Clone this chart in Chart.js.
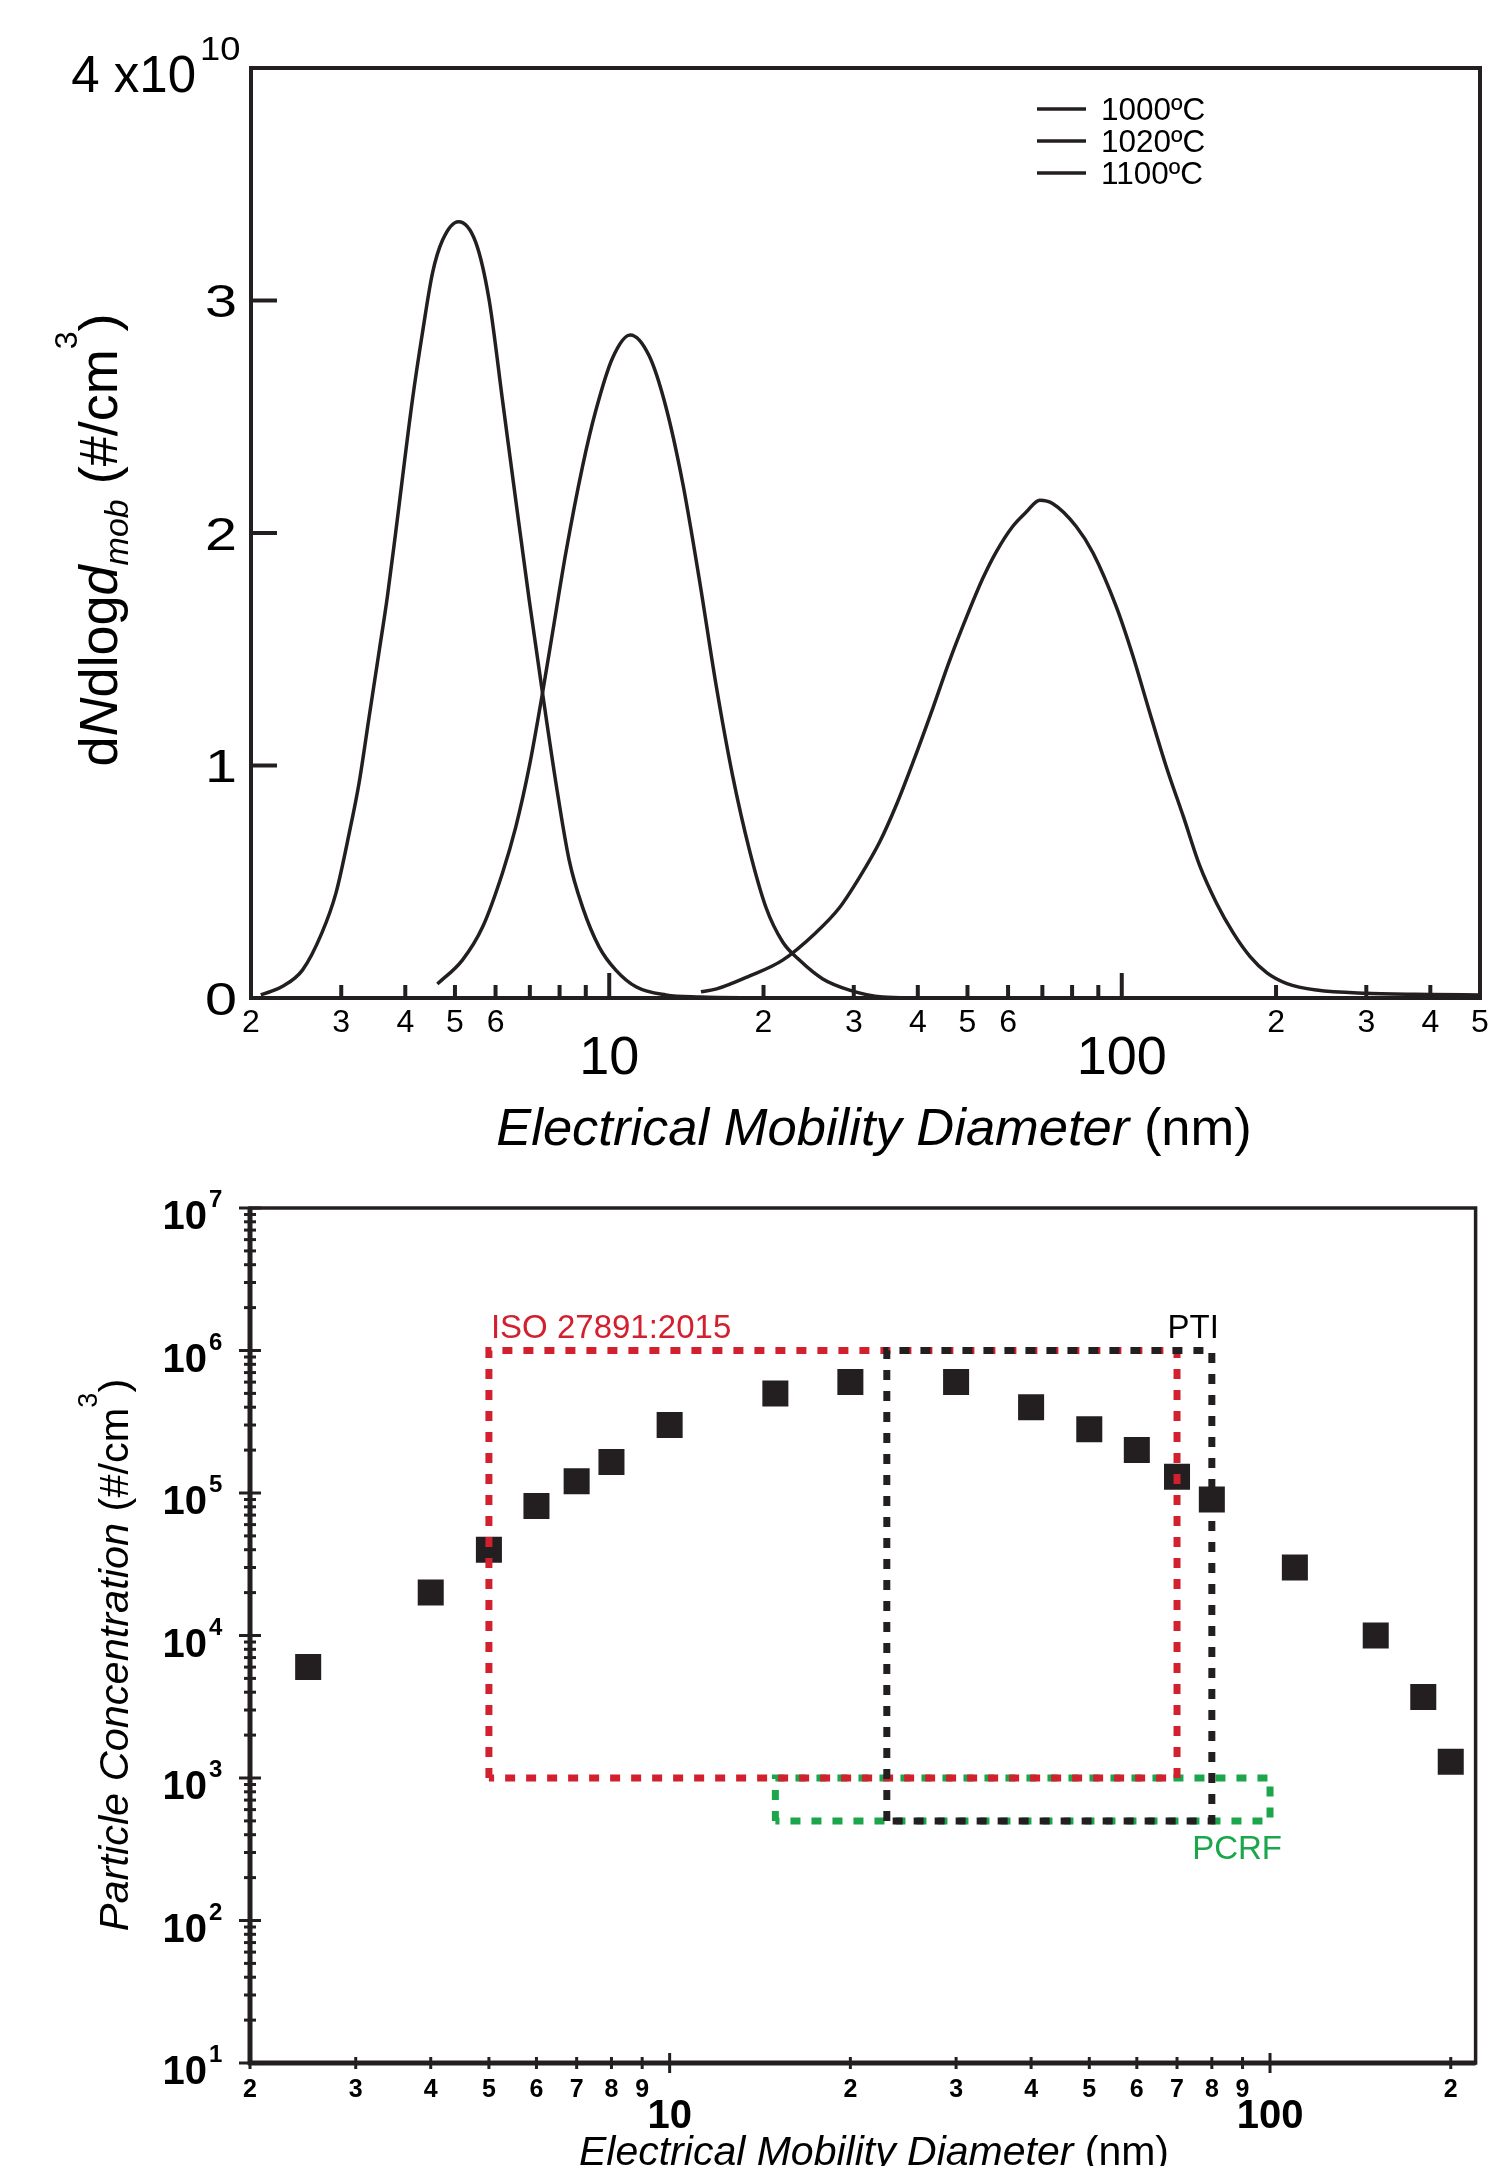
<!DOCTYPE html>
<html>
<head>
<meta charset="UTF-8">
<title>Particle size distributions</title>
<script src="https://cdn.jsdelivr.net/npm/chart.js"></script>
<style>
  body { margin: 0; background: #fff; }
  canvas { position: absolute; left: 0; }
</style>
</head>
<body>
<canvas id="top" width="1494" height="1170" style="top:0"></canvas>
<canvas id="bottom" width="1494" height="996" style="top:1170px"></canvas>

<script>
// ---- top panel: dN/dlogd (units of 1e10 #/cm3) vs mobility diameter (nm) ----
const d1000 = [2.09, 2.30, 2.52, 2.75, 2.93, 3.11, 3.25, 3.40, 3.56, 3.69, 3.83, 4.13, 4.32, 4.52, 4.73, 5.08, 5.49, 5.83, 6.19, 6.57, 6.98, 7.41, 7.87, 8.35, 8.87, 9.56, 10.3, 11.3, 12.9, 15.0, 20.0];
const n1000 = [0.013, 0.049, 0.120, 0.280, 0.452, 0.710, 0.925, 1.209, 1.497, 1.725, 2.000, 2.572, 2.860, 3.118, 3.260, 3.339, 3.250, 3.002, 2.572, 2.142, 1.712, 1.312, 0.925, 0.594, 0.391, 0.219, 0.120, 0.047, 0.013, 0.004, 0.0];
const d1020 = [4.62, 5.17, 5.66, 6.19, 6.57, 6.98, 7.41, 7.75, 8.23, 8.87, 9.42, 10.15, 10.99, 11.97, 12.90, 13.91, 14.99, 16.16, 17.41, 18.77, 20.24, 21.80, 23.50, 26.10, 29.43, 34.14, 40.0];
const n1020 = [0.060, 0.163, 0.305, 0.538, 0.735, 0.994, 1.312, 1.570, 1.916, 2.287, 2.529, 2.753, 2.852, 2.761, 2.542, 2.215, 1.800, 1.346, 0.955, 0.637, 0.387, 0.241, 0.163, 0.082, 0.034, 0.004, 0.0];
const d1100 = [15.1, 16.2, 18.8, 21.8, 25.3, 28.1, 30.8, 33.7, 36.3, 39.1, 42.8, 46.1, 49.8, 53.6, 56.9, 61.3, 65.1, 69.2, 73.4, 81.5, 87.9, 97.6, 105, 113, 122, 132, 142, 153, 165, 178, 192, 210, 240, 301, 405, 496];
const n1100 = [0.027, 0.039, 0.095, 0.163, 0.281, 0.387, 0.520, 0.671, 0.829, 1.011, 1.247, 1.449, 1.639, 1.806, 1.919, 2.029, 2.090, 2.141, 2.126, 2.028, 1.914, 1.682, 1.475, 1.239, 0.998, 0.778, 0.568, 0.409, 0.280, 0.178, 0.108, 0.062, 0.034, 0.020, 0.015, 0.013];
const topSeries = ['1000ºC', '1020ºC', '1100ºC'];

const topXTicks = [2, 3, 4, 5, 6, 7, 8, 9, 10, 20, 30, 40, 50, 60, 70, 80, 90, 100, 200, 300, 400, 500];
const topXLabels = ['2', '3', '4', '5', '6', '', '', '', ['', '10'], '2', '3', '4', '5', '6', '', '', '', ['', '100'], '2', '3', '4', '5'];
const topYTicks = [0, 1, 2, 3, 4];

// ---- bottom panel: particle concentration (#/cm3) vs mobility diameter (nm) ----
const dScatter = [2.5, 4, 5, 6, 7, 8, 10, 15, 20, 30, 40, 50, 60, 70, 80, 110, 150, 180, 200];
const concScatter = [6.0e3, 2.0e4, 4.0e4, 8.1e4, 1.21e5, 1.65e5, 3.0e5, 5.0e5, 6.0e5, 6.0e5, 4.0e5, 2.8e5, 2.0e5, 1.3e5, 9.0e4, 3.0e4, 1.0e4, 3.7e3, 1.3e3];
// measurement ranges: [dmin, dmax], [cmin, cmax]
const isoRange = [5, 70], isoConc = [1e3, 1e6];
const ptiRange = [23, 80], ptiConc = [500, 1e6];
const pcrfRange = [15, 100], pcrfConc = [500, 1e3];

const botXTicks = [2, 3, 4, 5, 6, 7, 8, 9, 10, 20, 30, 40, 50, 60, 70, 80, 90, 100, 200];
const botXLabels = ['2', '3', '4', '5', '6', '7', '8', '9', ['', '10'], '2', '3', '4', '5', '6', '7', '8', '9', ['', '100'], '2'];
const botYDecades = [1, 2, 3, 4, 5, 6, 7];

const INK = '#231f20', RED = '#d2202f', GREEN = '#1ba64b';
const FONT = "'Liberation Sans', Arial, sans-serif";

function pairs(xs, ys) {
    return xs.map((x, i) => ({x: x, y: ys[i]}));
}
function box(xr, yr) {
    return [{x: xr[0], y: yr[0]}, {x: xr[0], y: yr[1]}, {x: xr[1], y: yr[1]}, {x: xr[1], y: yr[0]}, {x: xr[0], y: yr[0]}];
}

// text made of pieces with their own font and vertical shift
function richText(ctx, parts, x, y, align, stretch) {
    let w = 0;
    parts.forEach(p => { ctx.font = p[1]; w += ctx.measureText(p[0]).width; });
    ctx.save();
    ctx.translate(x, y);
    ctx.scale(stretch || 1, 1);
    let cx = align === 'center' ? -w / 2 : (align === 'right' ? -w : 0);
    ctx.textAlign = 'left';
    ctx.textBaseline = 'alphabetic';
    parts.forEach(p => {
        ctx.font = p[1];
        ctx.fillText(p[0], cx, p[2] || 0);
        cx += ctx.measureText(p[0]).width;
    });
    ctx.restore();
}
function line(ctx, x1, y1, x2, y2) {
    ctx.beginPath(); ctx.moveTo(x1, y1); ctx.lineTo(x2, y2); ctx.stroke();
}

const topDecor = {
    id: 'topDecor',
    afterDraw(chart) {
        const ctx = chart.ctx, a = chart.chartArea;
        const xs = chart.scales.x, ys = chart.scales.y;
        ctx.save();
        ctx.strokeStyle = INK;
        ctx.fillStyle = '#000';
        ctx.lineWidth = 4;
        ctx.strokeRect(a.left, a.top, a.right - a.left, a.bottom - a.top);
        // inward tick marks
        topXTicks.forEach(v => {
            const px = xs.getPixelForValue(v);
            line(ctx, px, a.bottom, px, a.bottom - (v === 10 || v === 100 ? 25 : 13));
        });
        topYTicks.forEach(v => {
            const py = ys.getPixelForValue(v);
            line(ctx, a.left, py, a.left + 26, py);
            if (v < 4) {
                richText(ctx, [[String(v), '46px ' + FONT]], a.left - 14, py + 16.5, 'right', 1.25);
            }
        });
        // top y label with exponent
        const p4 = ys.getPixelForValue(4);
        richText(ctx, [['4 x10', '51px ' + FONT]], a.left - 55, p4 + 24, 'right');
        richText(ctx, [['10', '33px ' + FONT]], a.left - 51, p4 - 8, 'left', 1.1);
        // axis titles
        richText(ctx, [['Electrical Mobility Diameter', 'italic 52.5px ' + FONT], [' (nm)', '52.5px ' + FONT]], 874, 1145, 'center');
        ctx.save();
        ctx.translate(117, 540);
        ctx.rotate(-Math.PI / 2);
        richText(ctx, [['d', '54px ' + FONT], ['N', 'italic 54px ' + FONT], ['dlog', '54px ' + FONT], ['d', 'italic 54px ' + FONT],
            ['mob', 'italic 34px ' + FONT, 11], [' (#/cm', '54px ' + FONT], ['3', '32px ' + FONT, -40], [')', '54px ' + FONT]], 0, 0, 'center');
        ctx.restore();
        // legend
        chart.data.datasets.forEach((ds, i) => {
            const y = 109 + i * 32;
            ctx.lineWidth = 3.5;
            ctx.strokeStyle = ds.borderColor;
            line(ctx, 1037, y, 1086, y);
            richText(ctx, [[ds.label, '31.5px ' + FONT]], 1101, y + 11, 'left');
        });
        ctx.restore();
    }
};

const botDecor = {
    id: 'botDecor',
    afterDraw(chart) {
        const ctx = chart.ctx, a = chart.chartArea;
        const xs = chart.scales.x, ys = chart.scales.y;
        ctx.save();
        ctx.strokeStyle = INK;
        ctx.fillStyle = '#000';
        ctx.lineWidth = 3.5;
        ctx.strokeRect(a.left, a.top, a.right - a.left, a.bottom - a.top);
        ctx.lineWidth = 5;
        line(ctx, a.left, a.top, a.left, a.bottom + 2);
        line(ctx, a.left - 2, a.bottom, a.right, a.bottom);
        // tick marks crossing the axes
        ctx.lineWidth = 3;
        botXTicks.forEach(v => {
            const px = xs.getPixelForValue(v);
            const h = (v === 10 || v === 100) ? 10 : 6;
            line(ctx, px, a.bottom - h, px, a.bottom + h);
        });
        botYDecades.forEach(d => {
            const py = ys.getPixelForValue(Math.pow(10, d));
            line(ctx, a.left - 11, py, a.left + 11, py);
            if (d < 7) {
                for (let m = 2; m <= 9; m++) {
                    const pm = ys.getPixelForValue(m * Math.pow(10, d));
                    line(ctx, a.left - 6, pm, a.left + 6, pm);
                }
            }
            richText(ctx, [['10', 'bold 40px ' + FONT]], 207, py + 21, 'right');
            richText(ctx, [[String(d), 'bold 24px ' + FONT]], 209, py - 1, 'left');
        });
        // range labels
        ctx.fillStyle = RED;
        richText(ctx, [['ISO 27891:2015', '33px ' + FONT]], xs.getPixelForValue(isoRange[0]) + 2, ys.getPixelForValue(isoConc[1]) - 13, 'left');
        ctx.fillStyle = '#000';
        richText(ctx, [['PTI', '33px ' + FONT]], xs.getPixelForValue(ptiRange[1]) + 7, ys.getPixelForValue(ptiConc[1]) - 13, 'right');
        ctx.fillStyle = GREEN;
        richText(ctx, [['PCRF', '33px ' + FONT]], xs.getPixelForValue(pcrfRange[1]) + 12, ys.getPixelForValue(pcrfConc[0]) + 38, 'right');
        // axis titles
        ctx.fillStyle = '#000';
        richText(ctx, [['Electrical Mobility Diameter', 'italic 41px ' + FONT], [' (nm)', '41px ' + FONT]], 874, 995, 'center');
        ctx.save();
        ctx.translate(128, 485);
        ctx.rotate(-Math.PI / 2);
        richText(ctx, [['Particle Concentration', 'italic 41.5px ' + FONT], [' (#/cm', '41.5px ' + FONT], ['3', '27px ' + FONT, -31], [')', '41.5px ' + FONT]], 0, 0, 'center');
        ctx.restore();
        ctx.restore();
    }
};

const curveStyle = {borderColor: INK, borderWidth: 3.5, pointRadius: 0, showLine: true, cubicInterpolationMode: 'monotone', fill: false};

new Chart(document.getElementById('top'), {
    type: 'scatter',
    data: {
        datasets: [
            Object.assign({label: topSeries[0], data: pairs(d1000, n1000)}, curveStyle),
            Object.assign({label: topSeries[1], data: pairs(d1020, n1020)}, curveStyle),
            Object.assign({label: topSeries[2], data: pairs(d1100, n1100)}, curveStyle)
        ]
    },
    options: {
        responsive: false,
        animation: false,
        layout: {padding: {top: 68, right: 14, left: 0, bottom: 0}},
        plugins: {legend: {display: false}, tooltip: {enabled: false}},
        scales: {
            x: {
                type: 'logarithmic', min: 2, max: 500,
                afterBuildTicks: s => { s.ticks = topXTicks.map(v => ({value: v, major: v === 10 || v === 100})); },
                afterFit: s => { s.height = 172; },
                grid: {display: false}, border: {display: false},
                ticks: {
                    autoSkip: false, maxRotation: 0, padding: -2.5, color: '#000',
                    font: c => (c.tick && c.tick.major) ? {family: FONT, size: 54, lineHeight: 0.69} : {family: FONT, size: 32},
                    callback: (v, i) => topXLabels[i]
                }
            },
            y: {
                min: 0, max: 4,
                afterBuildTicks: s => { s.ticks = topYTicks.map(v => ({value: v})); },
                afterFit: s => { s.width = 251; },
                grid: {display: false}, border: {display: false},
                ticks: {display: false}
            }
        }
    },
    plugins: [topDecor]
});

const rangeStyle = {showLine: true, pointRadius: 0, borderWidth: 7, borderDash: [10, 11], borderCapStyle: 'butt', fill: false, tension: 0};

new Chart(document.getElementById('bottom'), {
    type: 'scatter',
    data: {
        datasets: [
            {label: 'Concentration', data: pairs(dScatter, concScatter), pointStyle: 'rect', pointRadius: 18.4,
                backgroundColor: INK, borderWidth: 0, order: 5},
            Object.assign({label: 'PCRF', data: box(pcrfRange, pcrfConc), borderColor: GREEN, order: 3}, rangeStyle),
            Object.assign({label: 'ISO 27891:2015', data: box(isoRange, isoConc), borderColor: RED, order: 2}, rangeStyle),
            Object.assign({label: 'PTI', data: box(ptiRange, ptiConc), borderColor: INK, order: 1}, rangeStyle)
        ]
    },
    options: {
        responsive: false,
        animation: false,
        layout: {padding: {top: 38, right: 13, left: 0, bottom: 0}},
        plugins: {legend: {display: false}, tooltip: {enabled: false}},
        scales: {
            x: {
                type: 'logarithmic', min: 2, max: 220,
                afterBuildTicks: s => { s.ticks = botXTicks.map(v => ({value: v, major: v === 10 || v === 100})); },
                afterFit: s => { s.height = 103; },
                grid: {display: false}, border: {display: false},
                ticks: {
                    autoSkip: false, maxRotation: 0, padding: 4, color: '#000',
                    font: c => (c.tick && c.tick.major) ? {family: FONT, size: 40, weight: 'bold', lineHeight: 0.7} : {family: FONT, size: 25, weight: 'bold'},
                    callback: (v, i) => botXLabels[i]
                }
            },
            y: {
                type: 'logarithmic', min: 10, max: 1e7,
                afterFit: s => { s.width = 250; },
                grid: {display: false}, border: {display: false},
                ticks: {display: false}
            }
        }
    },
    plugins: [botDecor]
});
</script>
</body>
</html>
